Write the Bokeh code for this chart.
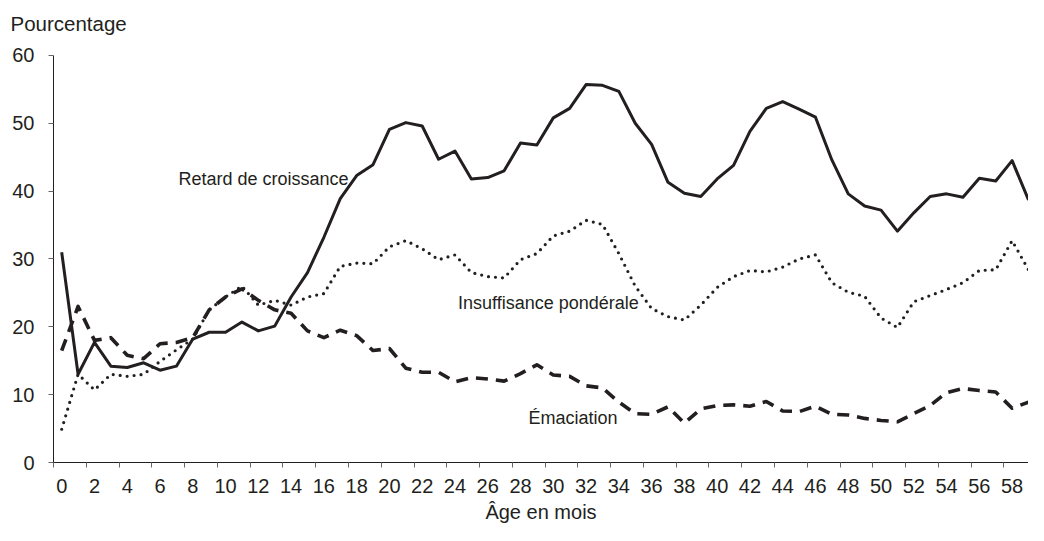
from bokeh.plotting import figure
from bokeh.models import Range1d, FixedTicker, Label
from bokeh.embed import file_html
from bokeh.resources import INLINE

# ---- data ----
months = list(range(60))
retard = [31.0, 13.0, 17.7, 14.2, 14.0, 14.7, 13.6, 14.2, 18.2, 19.2, 19.2, 20.7,
          19.4, 20.1, 24.4, 28.0, 33.2, 38.9, 42.3, 43.9, 49.1, 50.1, 49.6,
          44.7, 45.9, 41.8, 42.0, 43.0, 47.1, 46.8, 50.8, 52.2, 55.7, 55.6, 54.7,
          50.0, 46.9, 41.3, 39.7, 39.2, 41.8, 43.8, 48.8, 52.2, 53.2, 52.1,
          50.9, 44.6, 39.6, 37.8, 37.2, 34.1, 36.8, 39.2, 39.6, 39.1, 41.9, 41.5, 44.5, 38.7]
insuffisance = [4.9, 13.0, 10.7, 13.0, 12.7, 13.0, 14.9, 16.6, 18.2, 22.5, 24.4, 26.0,
                23.2, 23.9, 23.2, 24.4, 24.9, 28.9, 29.4, 29.3, 31.8, 32.7, 31.5,
                29.9, 30.6, 28.0, 27.4, 27.2, 29.9, 30.8, 33.4, 34.1, 35.7, 35.1, 30.8,
                26.0, 22.7, 21.5, 21.0, 23.2, 25.8, 27.4, 28.3, 28.1, 28.8, 30.0,
                30.6, 26.5, 25.1, 24.5, 21.3, 19.9, 23.7, 24.6, 25.5, 26.5, 28.3, 28.4, 32.7, 28.4]
emaciation = [16.5, 23.0, 18.0, 18.4, 15.8, 15.3, 17.5, 17.7, 18.4, 22.5, 24.4, 25.6,
              23.9, 22.5, 22.0, 19.4, 18.4, 19.5, 18.7, 16.5, 16.8, 13.9, 13.3,
              13.3, 11.9, 12.5, 12.3, 12.0, 13.1, 14.4, 12.9, 12.7, 11.3, 11.0, 8.9,
              7.2, 7.1, 8.2, 5.8, 7.9, 8.4, 8.5, 8.3, 9.0, 7.6, 7.5,
              8.3, 7.1, 7.0, 6.5, 6.2, 6.0, 7.2, 8.4, 10.3, 10.9, 10.6, 10.4, 8.0, 8.9]
x_ticks = list(range(0, 60, 2))
x_boundaries = [t - 0.5 for t in range(0, 60, 2)]
y_ticks = [0, 10, 20, 30, 40, 50, 60]
series_names = ["Retard de croissance", "Insuffisance pondérale", "Émaciation"]
y_title = "Pourcentage"
x_title = "Âge en mois"

INK = "#231F20"
FONT = "Liberation Sans"

p = figure(width=1028, height=525, x_range=Range1d(-0.5, 59), y_range=Range1d(0, 62.94),
           output_backend="svg", toolbar_location=None,
           min_border_left=53, min_border_right=0, min_border_top=35, min_border_bottom=62)
p.outline_line_color = None
p.xgrid.grid_line_color = None
p.ygrid.grid_line_color = None
p.background_fill_color = "white"
p.border_fill_color = "white"

# title used as the y-axis caption at top-left
p.title.text = y_title
p.title.align = "left"
p.title.vertical_align = "bottom"
p.title.offset = -43
p.title.standoff = 2
p.title.text_font = FONT
p.title.text_font_size = "20.5px"
p.title.text_font_style = "normal"
p.title.text_color = INK

# lines
p.line(months, retard, line_color=INK, line_width=3, line_join="round")
p.line(months, insuffisance, line_color=INK, line_width=3.2, line_dash="0 7",
       line_cap="round", line_join="round")
p.line(months, emaciation, line_color=INK, line_width=3.6, line_dash="12 8",
       line_join="round")

# axes
xa = p.xaxis[0]
xa.ticker = FixedTicker(ticks=x_ticks, minor_ticks=x_boundaries)
xa.major_tick_out = 0
xa.major_tick_in = 0
xa.minor_tick_out = 5
xa.minor_tick_in = 0
xa.minor_tick_line_color = "#666666"
xa.axis_line_color = INK
xa.major_label_text_font = FONT
xa.major_label_text_font_size = "20px"
xa.major_label_text_color = INK
xa.major_label_standoff = 11
xa.axis_label = x_title
xa.axis_label_text_font = FONT
xa.axis_label_text_font_size = "20px"
xa.axis_label_text_font_style = "normal"
xa.axis_label_text_color = INK
xa.axis_label_standoff = 5

ya = p.yaxis[0]
ya.ticker = FixedTicker(ticks=y_ticks, minor_ticks=[])
ya.bounds = (0, 60)
ya.major_tick_out = 5
ya.major_tick_in = 0
ya.major_tick_line_color = "#666666"
ya.minor_tick_line_color = None
ya.axis_line_color = INK
ya.major_label_text_font = FONT
ya.major_label_text_font_size = "20px"
ya.major_label_text_color = INK
ya.major_label_standoff = 14

def lab(x, y, text, size, align="center"):
    p.add_layout(Label(x=x, y=y, text=text, text_font=FONT, text_font_size=size,
                       text_color=INK, text_align=align, text_baseline="alphabetic"))

lab(12.32, 41.86, series_names[0], "18px")
lab(29.7, 23.5, series_names[1], "18px")
lab(31.2, 6.61, series_names[2], "18px")

open("out.html", "w").write(file_html(p, INLINE))
